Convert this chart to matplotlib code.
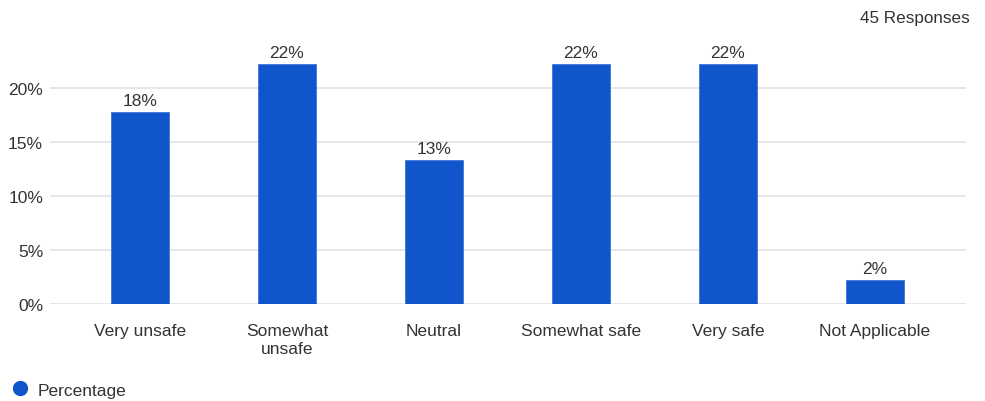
import matplotlib
matplotlib.use("Agg")
import matplotlib.pyplot as plt
from matplotlib.lines import Line2D

categories = ["Very unsafe", "Somewhat\nunsafe", "Neutral", "Somewhat safe", "Very safe", "Not Applicable"]
counts = [8, 10, 6, 10, 10, 1]
total = 45
percent = [c / total * 100 for c in counts]
yticks = [0, 5, 10, 15, 20]

plt.rcParams['font.family'] = ['Liberation Sans', 'DejaVu Sans']
text_color = "#333333"
bar_color = "#1155cc"
fs = 12.5

fig = plt.figure(figsize=(9.85, 4.02), dpi=100)
ax = fig.add_axes([50 / 985, 97 / 402, 916 / 985, 270 / 402])

x = list(range(len(categories)))
bars = ax.bar(x, percent, width=0.395, color=bar_color, edgecolor="#3d77d6", linewidth=0.6, zorder=3)
for rect, p in zip(bars, percent):
    ax.text(rect.get_x() + rect.get_width() / 2, p + 0.35, f"{round(p)}%",
            ha="center", va="bottom", fontsize=fs, color=text_color)

ax.set_xlim(-0.612, 5.62)
ax.set_ylim(0, 25)
ax.set_yticks(yticks)
ax.set_yticklabels([f"{t}%" for t in yticks], fontsize=fs, color=text_color)
ax.set_xticks(x)
ax.set_xticklabels(categories, fontsize=fs, color=text_color, linespacing=1.25, va="top")
ax.tick_params(axis="both", length=0)
ax.tick_params(axis="x", pad=14)
ax.tick_params(axis="y", pad=5)
ax.grid(axis="y", color="#e3e3e3", linewidth=1.2, zorder=0)
for s in ax.spines.values():
    s.set_visible(False)

fig.text(970 / 985, 1 - 18 / 402, "45 Responses", ha="right", va="center", fontsize=12.3, color=text_color)

handle = Line2D([], [], marker="o", linestyle="none", markersize=10, color=bar_color)
fig.legend([handle], ["Percentage"], loc="center left", bbox_to_anchor=(-4 / 985, 1 - 391 / 402),
           frameon=False, fontsize=fs, handlelength=1.0, handletextpad=0.5, labelcolor=text_color)

fig.savefig("out.png", dpi=100)
